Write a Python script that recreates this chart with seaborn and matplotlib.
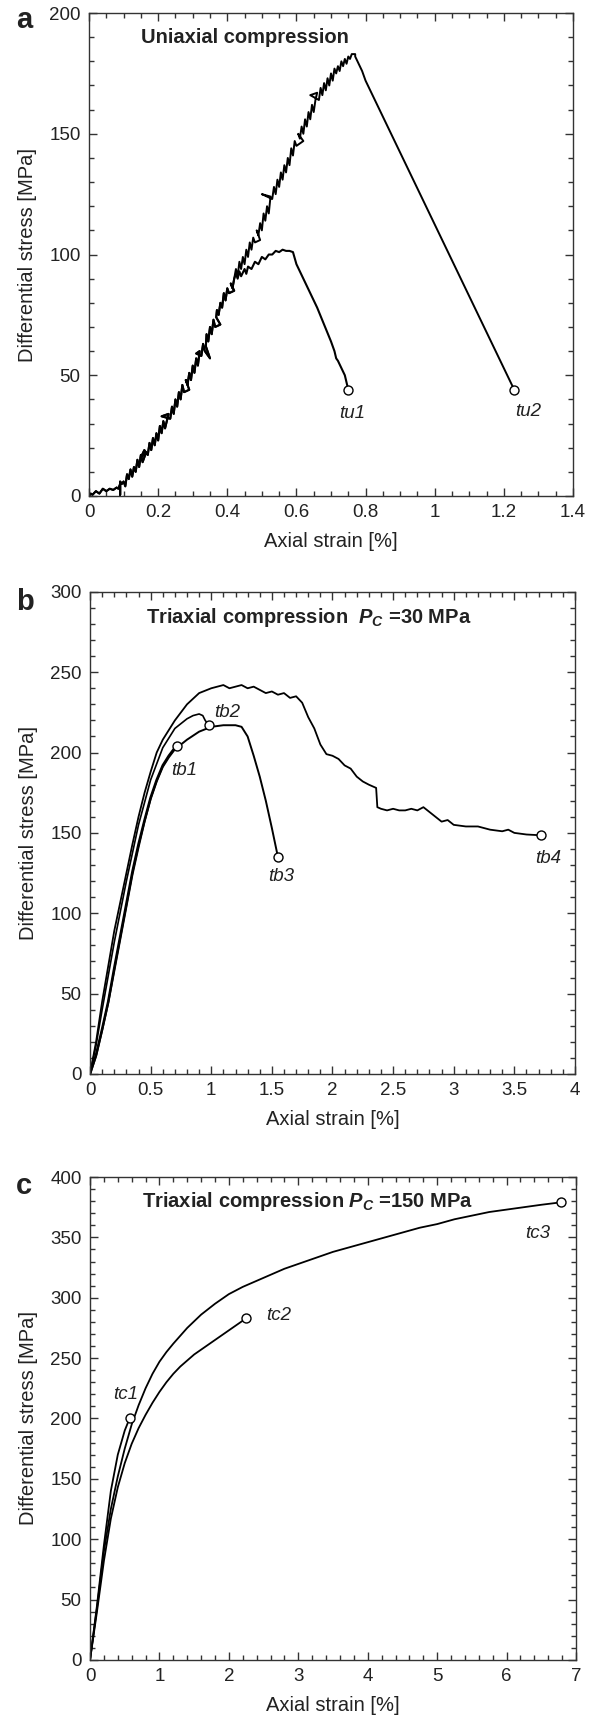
import matplotlib
matplotlib.use("Agg")
import matplotlib.pyplot as plt
import matplotlib.ticker as mticker
import seaborn as sns
import pandas as pd

# ---- panel a: uniaxial compression ----
# common noisy loading path (tu1 and tu2 overlap up to ~0.42 %)
tu_common_x = [0.000, 0.005, 0.010, 0.020, 0.030, 0.040, 0.050, 0.060, 0.070, 0.080, 0.085,
               0.090, 0.090, 0.090, 0.095,
               0.100, 0.105, 0.110, 0.115, 0.120, 0.125, 0.130, 0.135, 0.140, 0.145, 0.150,
               0.155, 0.165, 0.150, 0.160, 0.170, 0.175, 0.180, 0.185, 0.190, 0.195, 0.200,
               0.205, 0.210, 0.215, 0.220, 0.230, 0.210, 0.235, 0.240, 0.245, 0.250, 0.255,
               0.260, 0.265, 0.270, 0.275, 0.290, 0.280, 0.285, 0.290, 0.295, 0.300, 0.305,
               0.310, 0.315, 0.320, 0.310, 0.325, 0.330, 0.335, 0.350, 0.338, 0.340, 0.345,
               0.350, 0.355, 0.360, 0.365, 0.380, 0.368, 0.370, 0.375, 0.380, 0.385, 0.390,
               0.395, 0.400, 0.405, 0.420, 0.410, 0.415, 0.420]
tu_common_y = [0, 1, 0.5, 2, 1, 3, 2, 3, 2.5, 3.5, 3,
               5, 0.5, 6, 5,
               6, 4, 9, 7, 11, 8, 12, 10, 15, 12, 17,
               14, 18, 16, 19, 17, 22, 19, 24, 21, 26, 23,
               29, 26, 31, 28, 34, 33, 32, 37, 34, 40, 37,
               43, 40, 46, 43, 44, 48, 46, 51, 48, 54, 51,
               57, 54, 60, 59, 58, 63, 60, 57, 62, 67, 64,
               70, 67, 73, 70, 71, 74, 77, 75, 80, 78, 84,
               81, 86, 84, 85, 88, 86, 90]
tu1_x = [0.425, 0.430, 0.435, 0.440, 0.450, 0.455, 0.460, 0.470, 0.480, 0.490, 0.500, 0.510,
         0.520, 0.530, 0.540, 0.550, 0.560, 0.570, 0.580, 0.590, 0.600, 0.620, 0.640, 0.660,
         0.680, 0.700, 0.710, 0.715, 0.720, 0.730, 0.740, 0.745, 0.750]
tu1_y = [92, 90, 93, 91, 94, 92, 95, 94, 97, 96, 99, 98,
         100, 100, 101.5, 101, 102, 101.5, 101.5, 101, 96, 90, 84, 78,
         71, 64, 60, 57, 56, 53, 50, 47, 44]
tu2_x = [0.425, 0.430, 0.435, 0.440, 0.445, 0.450, 0.455, 0.460, 0.465, 0.470, 0.475, 0.480,
         0.495, 0.485, 0.490, 0.495, 0.500, 0.505, 0.510, 0.515, 0.520, 0.525, 0.500, 0.530,
         0.535, 0.540, 0.545, 0.550, 0.555, 0.560, 0.565, 0.570, 0.575, 0.580, 0.585, 0.590,
         0.595, 0.600, 0.620, 0.605, 0.610, 0.615, 0.620, 0.625, 0.630, 0.635, 0.640, 0.645,
         0.650, 0.655, 0.660, 0.640, 0.665, 0.670, 0.675, 0.680, 0.685, 0.690, 0.695, 0.700,
         0.705, 0.710, 0.715, 0.720, 0.725, 0.730, 0.735, 0.740, 0.745, 0.750, 0.755, 0.760,
         0.770, 0.770, 0.780, 0.790, 0.800, 1.230]
tu2_y = [94, 91, 97, 94, 99, 96, 102, 99, 105, 102, 107, 105,
         106, 110, 108, 113, 110, 117, 114, 120, 117, 124, 125, 123,
         128, 125, 131, 128, 134, 131, 137, 134, 140, 137, 144, 141,
         147, 145, 147, 150, 148, 153, 150, 156, 153, 159, 156, 162,
         159, 164, 167, 166, 164, 169, 166, 171, 168, 173, 170, 175,
         172, 177, 175, 178, 176, 180, 178, 181, 179, 182, 181, 183,
         183, 182, 179, 176, 172, 44]

# ---- panel b: triaxial, Pc = 30 MPa ----
tb1_x = [0, 0.05, 0.10, 0.15, 0.20, 0.25, 0.30, 0.35, 0.40, 0.45, 0.50, 0.55, 0.60, 0.65, 0.70, 0.72]
tb1_y = [0, 12, 28, 45, 66, 86, 106, 126, 143, 158, 172, 183, 192, 198, 203, 204]
tb2_x = [0, 0.05, 0.10, 0.20, 0.30, 0.40, 0.50, 0.60, 0.70, 0.80, 0.85, 0.90, 0.93, 0.95, 0.98]
tb2_y = [0, 18, 40, 82, 120, 155, 183, 203, 215, 221, 223, 224, 223, 220, 217]
tb3_x = [0, 0.05, 0.10, 0.15, 0.20, 0.25, 0.30, 0.35, 0.40, 0.45, 0.50, 0.55, 0.60, 0.65,
         0.70, 0.80, 0.90, 1.00, 1.10, 1.20, 1.25, 1.30, 1.35, 1.40, 1.45, 1.50, 1.55]
tb3_y = [0, 11, 27, 44, 64, 84, 104, 124, 141, 157, 171, 182, 191, 197,
         202, 208, 213, 216, 217, 217, 216, 210, 198, 185, 170, 153, 135]
tb4_x = [0, 0.05, 0.10, 0.20, 0.30, 0.35, 0.40, 0.45, 0.50, 0.55, 0.60, 0.70, 0.80, 0.90,
         1.00, 1.05, 1.10, 1.15, 1.20, 1.25, 1.30, 1.35, 1.40, 1.45, 1.50, 1.55, 1.60,
         1.65, 1.70, 1.75, 1.80, 1.85, 1.90, 1.95, 2.00, 2.05, 2.10, 2.15, 2.20, 2.25,
         2.30, 2.36, 2.37, 2.40, 2.45, 2.50, 2.55, 2.60, 2.65, 2.70, 2.75, 2.80, 2.85,
         2.90, 2.95, 3.00, 3.10, 3.20, 3.30, 3.40, 3.45, 3.50, 3.60, 3.72]
tb4_y = [0, 20, 45, 89, 125, 143, 160, 175, 188, 200, 208, 220, 230, 237,
         240, 241, 242, 240, 241, 242, 240, 241, 239, 237, 238, 236, 237,
         234, 235, 231, 222, 215, 205, 199, 198, 196, 192, 190, 185, 182,
         180, 178, 166, 165, 164, 165, 164, 164, 165, 164, 166, 163, 160,
         157, 158, 155, 154, 154, 152, 151, 152, 150, 149, 148.5]

# ---- panel c: triaxial, Pc = 150 MPa ----
tc1_x = [0, 0.10, 0.20, 0.30, 0.40, 0.50, 0.57]
tc1_y = [0, 45, 95, 140, 170, 190, 200]
tc2_x = [0, 0.10, 0.20, 0.30, 0.40, 0.50, 0.60, 0.70, 0.80, 0.90, 1.00, 1.10, 1.20, 1.30,
         1.40, 1.50, 1.60, 1.70, 1.80, 1.90, 2.00, 2.10, 2.20, 2.24]
tc2_y = [0, 40, 82, 117, 143, 163, 179, 192, 203, 213, 222, 230, 237, 243,
         248, 253, 257, 261, 265, 269, 273, 277, 281, 283]
tc3_x = [0, 0.10, 0.20, 0.30, 0.40, 0.50, 0.60, 0.70, 0.80, 0.90, 1.00, 1.10, 1.20, 1.40,
         1.60, 1.80, 2.00, 2.20, 2.40, 2.60, 2.80, 3.00, 3.25, 3.50, 3.75, 4.00, 4.25,
         4.50, 4.75, 5.00, 5.25, 5.50, 5.75, 6.00, 6.25, 6.50, 6.78]
tc3_y = [0, 43, 90, 125, 152, 175, 195, 211, 225, 237, 247, 255, 262, 275,
         286, 295, 303, 309, 314, 319, 324, 328, 333, 338, 342, 346, 350,
         354, 358, 361, 365, 368, 371, 373, 375, 377, 379]

# end-point labels: (name, marker x, marker y, label x, label y)
labels_a = [("tu1", 0.75, 44, 0.76, 34), ("tu2", 1.23, 44, 1.27, 35)]
labels_b = [("tb1", 0.72, 204, 0.78, 189), ("tb2", 0.98, 217, 1.13, 225),
            ("tb3", 1.55, 135, 1.58, 123), ("tb4", 3.72, 148.5, 3.78, 134)]
labels_c = [("tc1", 0.57, 200, 0.52, 220), ("tc2", 2.24, 283, 2.72, 285),
            ("tc3", 6.78, 379, 6.45, 353)]

sns.set_theme(style="ticks")
plt.rcParams["font.family"] = ["Liberation Sans", "DejaVu Sans"]
plt.rcParams["mathtext.fontset"] = "custom"
plt.rcParams["mathtext.it"] = "Liberation Sans:italic:bold"
plt.rcParams["mathtext.rm"] = "Liberation Sans:bold"
plt.rcParams["axes.edgecolor"] = "#333333"
plt.rcParams["axes.linewidth"] = 1.0

txt = "#222222"
fig = plt.figure(figsize=(5.95, 17.18), dpi=100)
ax_a = fig.add_axes([0.1496, 0.7113, 0.8134, 0.2811])
ax_b = fig.add_axes([0.1513, 0.3749, 0.8150, 0.2806])
ax_c = fig.add_axes([0.1513, 0.0338, 0.8168, 0.2811])


def draw_curve(ax, xs, ys, lw=1.1):
    df = pd.DataFrame({"x": xs, "y": ys})
    sns.lineplot(data=df, x="x", y="y", sort=False, estimator=None, color="black",
                 lw=lw, ax=ax)


def style_axes(ax, xmax, xmaj, xmin, ymax, title, tx, ty):
    ax.set_xlim(0, xmax)
    ax.set_ylim(0, ymax)
    ax.xaxis.set_major_locator(mticker.MultipleLocator(xmaj))
    ax.xaxis.set_minor_locator(mticker.MultipleLocator(xmin))
    ax.yaxis.set_major_locator(mticker.MultipleLocator(50))
    ax.yaxis.set_minor_locator(mticker.MultipleLocator(10))
    ax.xaxis.set_major_formatter(mticker.FuncFormatter(lambda v, p: "%g" % round(v, 3)))
    ax.tick_params(which="both", direction="in", top=True, right=True,
                   colors="#333333", labelcolor=txt, labelsize=13.5)
    ax.tick_params(which="major", length=6, width=1.0, pad=6)
    ax.tick_params(which="minor", length=3.5, width=1.0)
    ax.set_xlabel("Axial strain [%]", fontsize=14.5, color=txt, labelpad=8)
    ax.set_ylabel("Differential stress [MPa]", fontsize=14.5, color=txt, labelpad=9)
    ax.text(tx, ty, title, fontsize=14.5, fontweight="bold", color=txt, va="center")


def end_markers(ax, labs):
    mx = [l[1] for l in labs]
    my = [l[2] for l in labs]
    sns.scatterplot(x=mx, y=my, marker="o", s=42, facecolor="white", edgecolor="black",
                    linewidth=1.0, zorder=5, ax=ax)
    for name, _, _, lx, ly in labs:
        ax.text(lx, ly, name, fontsize=13.5, style="italic", color=txt,
                ha="center", va="center")


# panel a
draw_curve(ax_a, tu_common_x + tu1_x, tu_common_y + tu1_y, lw=1.5)
draw_curve(ax_a, tu_common_x + tu2_x, tu_common_y + tu2_y, lw=1.4)
end_markers(ax_a, labels_a)
style_axes(ax_a, 1.4, 0.2, 0.05, 200, "Uniaxial compression", 0.15, 190)

# panel b
draw_curve(ax_b, tb1_x, tb1_y, lw=1.8)
draw_curve(ax_b, tb3_x, tb3_y, lw=1.4)
draw_curve(ax_b, tb2_x, tb2_y, lw=1.2)
draw_curve(ax_b, tb4_x, tb4_y, lw=1.3)
end_markers(ax_b, labels_b)
style_axes(ax_b, 4, 0.5, 0.1, 300, r"Triaxial compression  $P_C$ =30 MPa", 0.465, 284)

# panel c
for xs, ys in [(tc1_x, tc1_y), (tc2_x, tc2_y), (tc3_x, tc3_y)]:
    draw_curve(ax_c, xs, ys, lw=1.3)
end_markers(ax_c, labels_c)
style_axes(ax_c, 7, 1, 0.2, 400, r"Triaxial compression $P_C$ =150 MPa", 0.75, 380)

# panel letters
for letter, y in [("a", 1718 - 20), ("b", 1718 - 602), ("c", 1718 - 1186)]:
    fig.text(16 / 595, y / 1718, letter, fontsize=21, fontweight="bold", color=txt,
             ha="left", va="center")

fig.savefig("out.png", dpi=100)
